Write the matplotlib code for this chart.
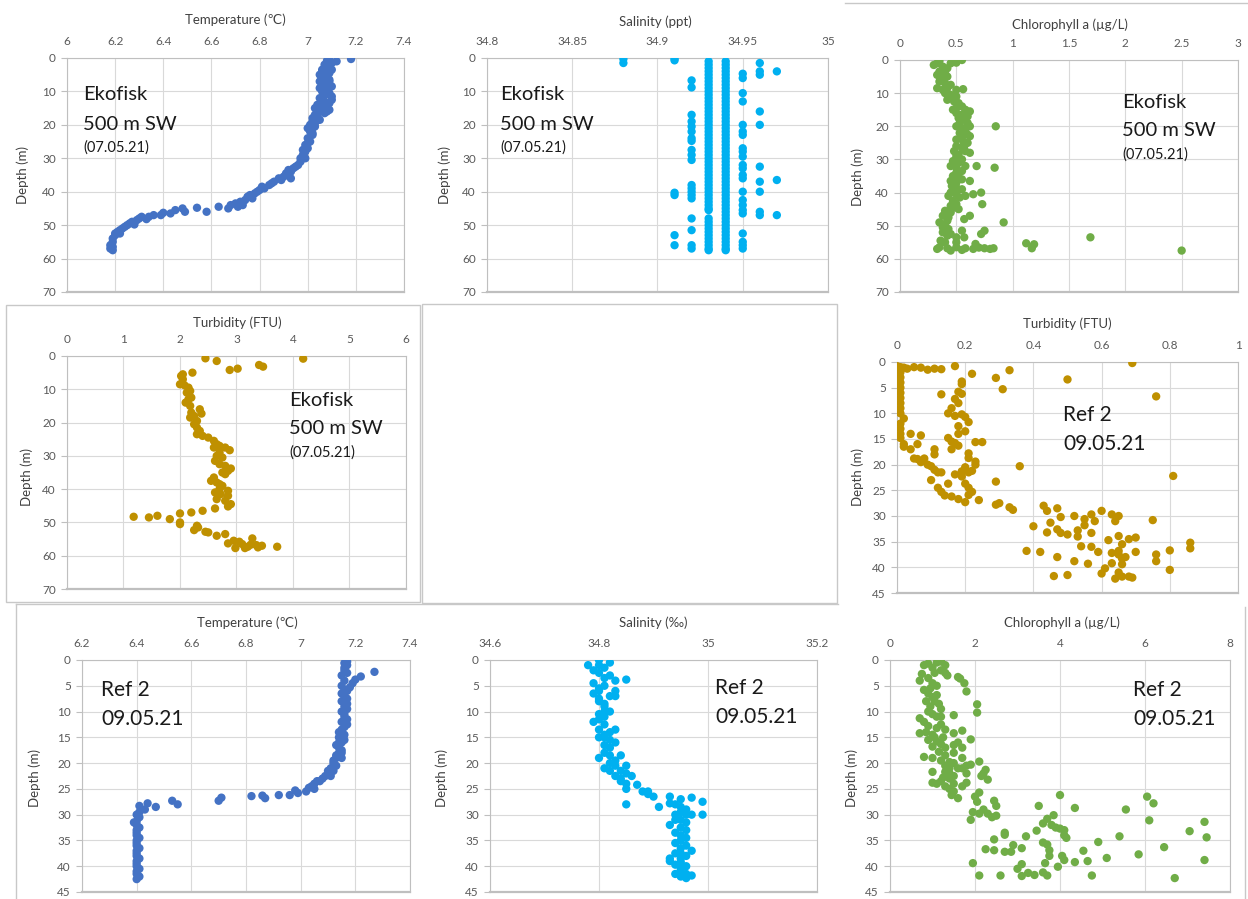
import matplotlib
matplotlib.use("Agg")
import matplotlib.pyplot as plt
from matplotlib.lines import Line2D
from matplotlib.patches import Rectangle

plt.rcParams['font.family'] = ['Lato', 'DejaVu Sans']

W, H = 1248, 899

# ---- data: (value, depth) pairs ----
eko_temp = [(7.18, 0.3), (7.09, 0.2), (7.08, 0.8), (7.12, 1), (7.10, 1.5), (7.09, 2.5), (7.07, 3),
            (7.06, 4), (7.09, 4.5), (7.05, 5), (7.08, 5.5), (7.06, 6), (7.09, 6.5), (7.05, 7),
            (7.08, 7.5), (7.06, 8), (7.10, 8.5), (7.05, 9), (7.08, 9.5), (7.06, 10), (7.09, 10.5),
            (7.07, 11), (7.10, 11.5), (7.05, 12), (7.10, 12.5), (7.07, 13), (7.04, 14), (7.08, 14.5),
            (7.03, 15), (7.06, 15.5), (7.09, 15.5), (7.05, 16), (7.07, 16.5), (7.03, 17), (7.02, 18),
            (7.05, 18.5), (7.02, 19), (7.01, 20), (7.03, 20.5), (7.02, 21), (7.01, 22), (7.02, 23),
            (7.00, 24), (7.01, 25), (6.99, 26), (7.00, 27), (6.99, 28), (6.98, 29), (6.99, 30),
            (6.97, 31), (6.96, 32), (6.94, 33), (6.92, 33.5), (6.93, 34), (6.92, 35), (6.93, 36),
            (6.90, 35.5), (6.88, 36), (6.86, 37), (6.85, 37.5), (6.84, 38), (6.82, 39), (6.80, 39.5),
            (6.79, 40), (6.78, 40.5), (6.76, 41), (6.77, 42), (6.74, 42.5), (6.72, 43), (6.70, 43.5),
            (6.71, 44.5), (6.68, 44), (6.67, 45), (6.63, 44.5), (6.58, 46), (6.54, 44.8), (6.48, 45),
            (6.49, 46), (6.45, 45.5), (6.43, 46.5), (6.40, 46.3), (6.39, 47), (6.36, 47), (6.34, 47.5),
            (6.31, 47.5), (6.30, 48), (6.29, 48.5), (6.27, 49), (6.26, 49.5), (6.25, 50), (6.24, 50.5),
            (6.23, 51), (6.22, 51.5), (6.21, 52), (6.20, 52.5), (6.20, 53), (6.19, 54), (6.19, 55),
            (6.18, 56), (6.18, 57), (6.19, 57.5),
            (7.07, 2), (7.06, 3.5), (7.10, 3.5), (7.07, 5), (7.09, 7), (7.06, 9.5), (7.09, 11),
            (7.06, 12.5), (7.09, 13.5), (7.05, 14.5), (7.08, 16), (7.04, 17.5), (7.03, 19.5),
            (7.00, 21), (7.02, 22.5), (7.00, 25.5), (6.98, 27.5), (6.97, 30), (6.95, 32.5), (6.91, 34.5),
            (6.89, 36.5), (6.81, 38.5), (6.75, 41.5), (6.73, 44), (6.33, 48.2), (6.28, 49.8),
            (6.22, 52.5), (6.19, 56.5)]

# Ekofisk salinity comes in discrete columns: depths per salinity value
sal_3488_depth = [0.3, 1.5]
sal_3491_depth = [0.2, 0.7, 40.3, 41, 53, 56]
sal_3492_depth = [6.7, 8.8, 17, 19, 20.5, 22, 24, 24.8, 27.5, 29, 30.5, 38, 39, 40, 41, 42, 48, 51.5, 56, 57]
sal_3493_depth = [1, 2, 3, 4, 5, 6, 7, 8, 9, 10, 11, 12, 13, 14, 15, 16, 17, 18, 19, 20, 21, 22, 23,
                  24, 25, 26, 27, 28, 29, 30, 31, 32, 33, 34, 35, 36, 37, 38, 39, 40, 41, 42, 43, 44,
                  45, 45.5, 48, 49, 50, 51, 52, 53, 54, 55, 56, 57, 57.5]
sal_3494_depth = [1, 2, 3, 4, 5, 6, 7, 8, 9, 10, 11, 12, 13, 14, 15, 16, 17, 18, 19, 20, 21, 22, 23,
                  24, 25, 26, 27, 28, 29, 30, 31, 32, 33, 34, 35, 36, 37, 38, 39, 40, 41, 42, 43, 44,
                  45, 46, 47, 48, 49, 50, 51, 52, 53, 54, 55, 56, 57, 57.5]
sal_3495_depth = [4.7, 6, 10.5, 13, 20, 22, 23, 27, 28, 29.5, 32, 33, 35, 36, 40, 42.5, 44, 45.5,
                  46.5, 52.5, 55, 56, 57]
sal_3496_depth = [1.5, 4, 5, 16, 20, 32.5, 37, 40, 46, 47]
sal_3497_depth = [4, 36.5, 47]

eko_chl = [(0.55, 0), (0.5, 0.8), (0.45, 1), (0.35, 0.3), (0.3, 1.5), (0.33, 1), (0.38, 2), (0.42, 2.5),
           (0.35, 3.5), (0.4, 4), (0.33, 4.5), (0.37, 5.5), (0.42, 5), (0.35, 6.5), (0.4, 7), (0.45, 7.5),
           (0.33, 8.5), (0.38, 9), (0.42, 8.5), (0.5, 9), (0.56, 8.8), (0.4, 10), (0.45, 10.5), (0.5, 11),
           (0.42, 12), (0.48, 12.5), (0.52, 13), (0.55, 14), (0.5, 14.5), (0.58, 15), (0.62, 15.5),
           (0.5, 16), (0.55, 16.5), (0.6, 17), (0.52, 17.5), (0.57, 18), (0.6, 19), (0.5, 20), (0.55, 20.5),
           (0.62, 20), (0.85, 20), (0.58, 21), (0.53, 22), (0.6, 22.5), (0.62, 23), (0.5, 24), (0.56, 24.5),
           (0.6, 25), (0.5, 26), (0.55, 26.5), (0.48, 27.5), (0.58, 27.5), (0.62, 28), (0.5, 29), (0.55, 30),
           (0.52, 31), (0.45, 32), (0.5, 32.5), (0.58, 32), (0.68, 32), (0.84, 32.5), (0.55, 33.5), (0.5, 34),
           (0.47, 35), (0.52, 35.5), (0.45, 36.5), (0.5, 37), (0.62, 36.5), (0.46, 38), (0.5, 38.5),
           (0.55, 39), (0.45, 40), (0.5, 40.5), (0.58, 41), (0.65, 40.5), (0.72, 40), (0.53, 41.5),
           (0.47, 42.5), (0.5, 43.5), (0.73, 43.5), (0.45, 44), (0.52, 45), (0.4, 45.5), (0.45, 46),
           (0.38, 47), (0.43, 47.5), (0.62, 47), (0.57, 48), (0.35, 49), (0.4, 49.5), (0.92, 49),
           (0.38, 50.5), (0.43, 51), (0.55, 51.5), (0.75, 51.5), (0.38, 52), (0.72, 52.5), (0.42, 53),
           (0.5, 53.5), (0.57, 53.5), (1.69, 53.5), (0.36, 54.5), (0.4, 55), (0.5, 55), (1.12, 55.3),
           (1.19, 55.6), (0.67, 55.5), (0.35, 56.5), (0.42, 56.8), (0.5, 56.5), (0.58, 56.8), (0.65, 57),
           (0.7, 56.6), (0.75, 56.8), (0.8, 57), (0.83, 56.8), (1.17, 56.8), (0.45, 57.5), (0.55, 57.3),
           (2.5, 57.5), (0.33, 57),
           (0.38, 3), (0.36, 6), (0.44, 11), (0.47, 15), (0.53, 19), (0.55, 23), (0.57, 26), (0.52, 28.5),
           (0.47, 30.5), (0.55, 36), (0.5, 39.5), (0.43, 41), (0.48, 44.5), (0.42, 48.5), (0.45, 52.5)]

eko_turb = [(2.45, 0.7), (2.65, 1.5), (4.18, 0.8), (3.4, 2.7), (3.47, 3.2), (3.02, 3.8), (2.88, 4.2),
            (2.05, 5.5), (2.22, 5), (2.02, 6), (2.05, 7), (2.0, 8.5), (2.08, 8.8), (2.15, 9.5), (2.18, 10.5),
            (2.12, 11), (2.2, 12.5), (2.15, 13), (2.1, 14), (2.18, 15), (2.35, 16), (2.38, 17.3), (2.2, 17),
            (2.25, 18), (2.18, 18.5), (2.3, 19.5), (2.25, 20.5), (2.3, 21.5), (2.35, 22.5), (2.3, 23.5),
            (2.4, 24), (2.5, 24.5), (2.6, 25.5), (2.65, 26.5), (2.7, 27), (2.8, 27.5), (2.88, 28.3),
            (2.6, 27.5), (2.7, 29), (2.65, 30), (2.75, 30.5), (2.62, 31.5), (2.7, 32.5), (2.8, 33),
            (2.9, 33.8), (2.85, 34.5), (2.75, 35), (2.8, 35.5), (2.6, 36.5), (2.55, 37.5), (2.65, 38),
            (2.7, 38.5), (2.75, 39), (2.7, 40), (2.85, 40.5), (2.62, 41), (2.72, 41.5), (2.85, 42),
            (2.65, 43), (2.8, 43.5), (2.9, 44.5), (2.85, 45.2), (2.62, 45.8), (2.4, 46.5), (2.2, 47),
            (2.0, 47.3), (1.6, 48), (1.45, 48.5), (1.18, 48.3), (1.82, 49), (2.0, 50), (2.0, 50.5),
            (2.3, 51), (2.32, 51.5), (2.25, 52.3), (2.45, 52.8), (2.5, 53), (2.8, 53.5), (2.65, 54),
            (3.28, 54.8), (2.95, 55.5), (3.05, 55.8), (2.85, 56.3), (3.1, 56.5), (3.25, 56.7),
            (3.35, 56.8), (3.45, 57), (3.2, 57.3), (3.15, 57.7), (2.98, 57.7), (3.38, 57.5), (3.72, 57.3)]

ref_turb = [(0.0, 0.8), (0.01, 1), (0.02, 1.1), (0.03, 1.3), (0.05, 1), (0.07, 1.1), (0.09, 1.5),
            (0.11, 1.3), (0.13, 1.4), (0.17, 0.8), (0.69, 0.2), (0.22, 2.3), (0.33, 1.6), (0.29, 3.1),
            (0.5, 3.4), (0.31, 5.3), (0.19, 3.8), (0.19, 4.3), (0.76, 6.7), (0.13, 6.3), (0.18, 5.8),
            (0.19, 6.2), (0.17, 7.2), (0.18, 8.0), (0.01, 2), (0.01, 3), (0.01, 4), (0.01, 5), (0.01, 6),
            (0.01, 7), (0.01, 8), (0.01, 9), (0.01, 10), (0.02, 11), (0.01, 12), (0.01, 13), (0.01, 14),
            (0.01, 14.8), (0.02, 16), (0.16, 9), (0.15, 10), (0.17, 10.5), (0.19, 10.2), (0.2, 10.7),
            (0.21, 11.7), (0.18, 12.5), (0.2, 13.5), (0.18, 14), (0.15, 14.8), (0.16, 15.5), (0.17, 15.8),
            (0.18, 16.3), (0.23, 15.6), (0.25, 15.6), (0.16, 17), (0.21, 17.8), (0.21, 18.7), (0.23, 19.4),
            (0.23, 20), (0.36, 20.3), (0.81, 22.2), (0.2, 20.5), (0.19, 21.3), (0.21, 21.5), (0.17, 21.9),
            (0.19, 22.3), (0.22, 21.2), (0.2, 23.7), (0.21, 24.5), (0.22, 25.3), (0.21, 25.9), (0.24, 26.9),
            (0.2, 27.3), (0.18, 26.7), (0.16, 26.2), (0.14, 26), (0.13, 25.3), (0.12, 24.5), (0.1, 23),
            (0.11, 21), (0.12, 21.5), (0.13, 21.5), (0.09, 20), (0.1, 20.3), (0.07, 19.5), (0.06, 18.9),
            (0.05, 18.8), (0.04, 17), (0.06, 16), (0.04, 14), (0.07, 14.3), (0.02, 16.5), (0.08, 18.8),
            (0.11, 17), (0.11, 18), (0.15, 23.7), (0.29, 23.3), (0.29, 27.8), (0.3, 27.5), (0.33, 28.3),
            (0.34, 28.8), (0.43, 28), (0.44, 29), (0.47, 28.5), (0.48, 30.2), (0.4, 32), (0.45, 31.3),
            (0.44, 33.2), (0.47, 32.6), (0.48, 33.3), (0.5, 33.6), (0.52, 30), (0.55, 30.6), (0.55, 31.8),
            (0.53, 32.8), (0.53, 34), (0.57, 33.3), (0.58, 31), (0.57, 29.7), (0.6, 29), (0.63, 29.7),
            (0.65, 30), (0.64, 31), (0.75, 30.8), (0.62, 34.7), (0.65, 33.9), (0.68, 34.5), (0.7, 34.2),
            (0.54, 35.9), (0.57, 36), (0.59, 37), (0.63, 37.2), (0.65, 36.8), (0.66, 35.5), (0.65, 37.5),
            (0.66, 38.3), (0.67, 38), (0.66, 39.4), (0.7, 37), (0.38, 36.8), (0.42, 37), (0.47, 38),
            (0.52, 38.8), (0.56, 39.3), (0.63, 39.2), (0.61, 40.2), (0.6, 41.2), (0.65, 41), (0.66, 41.8),
            (0.64, 42.2), (0.68, 41.8), (0.69, 42), (0.46, 41.7), (0.5, 41.5), (0.76, 37.5), (0.76, 38.8),
            (0.8, 36.7), (0.8, 40.5), (0.86, 35.2), (0.86, 36.3)]

ref_temp = [(7.17, 0.3), (7.17, 1), (7.16, 1.5), (7.16, 2), (7.27, 2.3), (7.15, 3), (7.22, 3.2),
            (7.2, 3.8), (7.16, 4), (7.19, 4.5), (7.15, 5), (7.18, 5.3), (7.17, 6), (7.15, 6.5),
            (7.16, 7), (7.17, 7.5), (7.15, 8), (7.16, 9), (7.17, 9.5), (7.15, 10), (7.16, 11),
            (7.17, 11.5), (7.15, 12), (7.16, 13), (7.15, 13.5), (7.14, 14), (7.16, 14.5), (7.14, 15),
            (7.15, 16), (7.13, 16.5), (7.14, 17), (7.15, 17.5), (7.14, 18), (7.13, 18.5), (7.15, 19),
            (7.12, 19.5), (7.12, 20), (7.11, 21), (7.12, 21.5), (7.10, 22), (7.11, 22.5), (7.08, 23),
            (7.07, 23.5), (7.05, 24), (7.04, 24.5), (7.05, 25), (7.02, 25.5), (6.98, 25.3), (6.99, 25.8),
            (6.96, 26.2), (6.92, 26.2), (6.86, 26.3), (6.82, 26.4), (6.87, 26.8), (6.71, 26.7),
            (6.70, 27.3), (6.53, 27.3), (6.55, 28), (6.47, 28.5), (6.44, 27.8), (6.43, 29), (6.41, 28.3),
            (6.41, 29.5), (6.40, 30), (6.41, 30.5), (6.40, 31.3), (6.39, 31.5), (6.40, 32), (6.41, 32.5),
            (6.40, 33), (6.40, 34), (6.41, 34.5), (6.40, 35), (6.40, 36), (6.41, 36.5), (6.40, 37),
            (6.40, 38), (6.41, 38.5), (6.40, 39), (6.40, 40), (6.41, 40.5), (6.40, 41), (6.40, 41.5),
            (6.41, 42), (6.40, 42.5),
            (7.16, 0.6), (7.17, 2.5), (7.16, 5.8), (7.17, 8.5), (7.16, 10.5), (7.17, 12.5), (7.16, 15.5),
            (7.14, 16), (7.15, 18), (7.13, 19), (7.13, 20.5), (7.10, 21.5), (7.09, 22.5), (7.06, 23.5),
            (7.03, 24.8), (6.40, 33.5), (6.40, 35.5), (6.40, 37.5), (6.40, 39.5)]

ref_sal = [(34.80, 0), (34.82, 0.5), (34.78, 1), (34.79, 2), (34.81, 1.5), (34.8, 2.5), (34.82, 3),
           (34.83, 4), (34.85, 3.8), (34.79, 4.5), (34.8, 5.5), (34.81, 5), (34.79, 6.5), (34.8, 6),
           (34.82, 7), (34.83, 6), (34.83, 7), (34.8, 8), (34.81, 9), (34.82, 10), (34.8, 10.5),
           (34.79, 12), (34.8, 11.5), (34.81, 10), (34.8, 13.5), (34.82, 14), (34.83, 13.5), (34.81, 15),
           (34.8, 15), (34.83, 16), (34.82, 17), (34.81, 18), (34.8, 19), (34.84, 18.5), (34.83, 19.5),
           (34.82, 20), (34.81, 21), (34.83, 20.5), (34.85, 20.5), (34.84, 21.5), (34.85, 22),
           (34.86, 22.5), (34.83, 22.5), (34.84, 23.5), (34.85, 24), (34.87, 24.2), (34.85, 25),
           (34.88, 25.5), (34.89, 25.5), (34.89, 26), (34.9, 26.5), (34.85, 28), (34.91, 28.5),
           (34.93, 26.5), (34.95, 27), (34.97, 26.7), (34.99, 27.5), (34.93, 27.8), (34.94, 28),
           (34.95, 28.5), (34.96, 29), (34.95, 29.5), (34.94, 30), (34.96, 30), (34.97, 30), (34.99, 30),
           (34.95, 31), (34.96, 31.5), (34.93, 32), (34.95, 32.5), (34.96, 33), (34.95, 34), (34.96, 34.5),
           (34.95, 35), (34.94, 35.5), (34.96, 36), (34.95, 36.5), (34.97, 37), (34.94, 37.5), (34.96, 38),
           (34.93, 38.5), (34.93, 39), (34.95, 39.2), (34.94, 39.7), (34.96, 40), (34.95, 40.5),
           (34.95, 41), (34.96, 41.5), (34.97, 41.8), (34.96, 42.3), (34.95, 42),
           (34.80, 1), (34.81, 3.5), (34.80, 7.5), (34.81, 8.5), (34.81, 11), (34.81, 12.5),
           (34.81, 14.5), (34.82, 15.5), (34.81, 16.5), (34.82, 18.5), (34.82, 21.5), (34.84, 23),
           (34.94, 31), (34.94, 33.5), (34.95, 37.5), (34.95, 38.5), (34.94, 41.5)]

ref_chl = [(0.8, 1), (0.9, 0.7), (1.0, 1.5), (1.1, 0.5), (1.2, 0.3), (1.3, 1), (1.2, 2), (1.3, 2.5),
           (1.35, 3), (0.75, 2.7), (0.7, 4), (0.9, 3.5), (1.0, 4.5), (1.1, 5), (1.6, 3.3), (1.65, 3.6),
           (1.75, 4.5), (1.8, 6.1), (0.8, 5.8), (0.9, 6.5), (1.0, 7.2), (0.85, 8), (1.05, 8), (0.95, 9),
           (1.2, 9.5), (2.05, 8.6), (2.05, 10.2), (0.9, 10), (1.0, 10.5), (1.1, 11), (0.7, 11.3), (0.8, 12),
           (1.2, 11), (1.5, 10.7), (1.2, 12.5), (1.3, 13.5), (0.7, 14.2), (0.85, 14), (1.0, 14.5),
           (1.05, 15), (0.9, 15.5), (1.1, 15.8), (1.2, 16.3), (1.3, 17), (1.5, 16.5), (1.6, 16),
           (1.7, 13.7), (1.5, 14.2), (1.9, 15.4), (1.7, 17), (1.5, 18), (1.3, 18.5), (0.8, 18.8),
           (1.0, 19), (1.2, 19.5), (1.3, 20.5), (1.4, 21), (1.3, 21.7), (1.4, 22), (1.5, 22.5), (1.5, 20),
           (1.6, 21), (1.7, 19), (1.8, 20.5), (1.7, 21), (1.8, 22), (1.9, 20.3), (2.1, 19.7), (2.25, 21.3),
           (2.2, 22), (2.15, 22.5), (2.3, 23.2), (1.0, 21.7), (1.0, 23.8), (1.1, 24), (1.2, 23.5),
           (1.4, 23), (1.5, 24), (1.7, 24.5), (1.8, 23.8), (1.4, 25), (1.5, 25.5), (1.45, 26.2),
           (1.6, 26.8), (2.0, 26.5), (2.05, 27.5), (2.1, 25.7), (1.95, 29.5), (1.9, 31), (2.1, 29.8),
           (2.2, 29), (2.3, 29.8), (2.4, 30.5), (2.45, 27.3), (2.5, 28.3), (2.5, 30.2), (3.5, 28.3),
           (4.0, 26.2), (4.35, 28.7), (3.85, 30.1), (3.7, 30.8), (3.6, 31.7), (3.8, 32), (3.9, 32.5),
           (4.0, 32.7), (4.1, 33), (4.1, 34), (4.15, 34.5), (3.45, 33.1), (3.2, 34.2), (2.7, 33.5),
           (2.7, 33.9), (2.45, 34.8), (2.45, 36.9), (2.25, 36.7), (2.7, 37.2), (2.85, 37.2), (2.9, 35.9),
           (3.1, 36.5), (3.6, 35.4), (3.7, 35.8), (3.75, 36.9), (3.75, 38), (4.05, 38), (4.1, 38.8),
           (3.95, 40.1), (4.35, 39.2), (4.55, 37), (4.65, 39), (4.9, 35.3), (5.1, 38.4), (5.4, 34.2),
           (5.55, 29), (6.05, 26.5), (6.2, 27.8), (6.1, 31.1), (5.85, 37.7), (6.45, 36.3), (7.05, 33.2),
           (7.4, 31.4), (7.45, 34.4), (7.4, 38.8), (6.7, 42.3), (4.75, 41.8), (3.65, 39.4), (3.6, 41.2),
           (3.7, 41.8), (3.4, 41.7), (3.25, 41.3), (3.1, 39.6), (3.1, 41.9), (3.0, 40.5), (2.6, 41.8),
           (2.1, 41.8), (1.95, 39.4),
           (1.05, 2.5), (0.95, 5.5), (1.1, 6.8), (1.15, 8.5), (0.9, 12.8), (1.1, 13.2), (1.25, 15),
           (1.0, 16.8), (1.15, 17.8), (1.4, 19.8), (1.25, 22.8), (1.3, 24.5)]

BLUE, CYAN, GREEN, GOLD = '#4472C4', '#00B0F0', '#70AD47', '#BF9000'
GRID, AXIS, TICK = '#d9d9d9', '#bfbfbf', '#595959'


def fx(x):
    return x / W


def fy(y):
    return 1 - y / H


def panel(box, xticks, ymax, ystep, title, title_xy, ylab_xy):
    l, t, r, b = box
    ax = fig.add_axes([fx(l), fy(b), fx(r - l), (b - t) / H])
    ax.set_xlim(xticks[0], xticks[-1])
    ax.set_ylim(ymax, 0)
    ax.set_xticks(xticks)
    ax.set_xticklabels(['%g' % v for v in xticks])
    yt = list(range(0, ymax + 1, ystep))
    ax.set_yticks(yt)
    ax.xaxis.tick_top()
    ax.tick_params(axis='x', length=0, pad=8, labelsize=8.5, labelcolor=TICK)
    ax.tick_params(axis='y', length=4, width=0.8, color=AXIS, pad=4, labelsize=8.5, labelcolor=TICK)
    ax.grid(True, color=GRID, lw=0.8)
    ax.set_axisbelow(True)
    for s in ax.spines.values():
        s.set_color(AXIS)
        s.set_linewidth(0.8)
    ax.spines['bottom'].set_linewidth(1.6)
    fig.text(fx(title_xy[0]), fy(title_xy[1]), title, ha='center', va='center',
             fontsize=9.5, color='#404040')
    fig.text(fx(ylab_xy[0]), fy(ylab_xy[1]), 'Depth (m)', ha='center', va='center',
             rotation=90, fontsize=9.5, color='#404040')
    return ax


def dots(ax, pts, color):
    xs = [p[0] for p in pts]
    ds = [p[1] for p in pts]
    ax.scatter(xs, ds, s=36, color=color, edgecolors='none', zorder=3)


def label(x, y, lines):
    for text, dy, size in lines:
        fig.text(fx(x), fy(y + dy), text, ha='left', va='center', fontsize=size, color='#1a1a1a')


eko_label = [('Ekofisk', 0, 14.5), ('500 m SW', 29, 14.5), ('(07.05.21)', 53, 10.5)]
ref_label = [('Ref 2', 0, 15), ('09.05.21', 29, 15)]

fig = plt.figure(figsize=(W / 100, H / 100), dpi=100)

# frames around some chart boxes
fig.add_artist(Rectangle((fx(422), fy(603)), fx(837 - 422), (603 - 304) / H,
                         transform=fig.transFigure, fill=False, ec='#c8c8c8', lw=1))
fig.add_artist(Rectangle((fx(6), fy(602)), fx(420 - 6), (602 - 305) / H,
                         transform=fig.transFigure, fill=False, ec='#c8c8c8', lw=1))
for xs, ys in [([845, 1248], [3, 3]), ([16, 838], [604, 604]), ([16, 16], [604, 899]),
               ([1245, 1245], [607, 899])]:
    fig.add_artist(Line2D([fx(v) for v in xs], [fy(v) for v in ys],
                          transform=fig.transFigure, color='#c8c8c8', lw=1))

# row 1
ax1 = panel((67, 58, 404, 292), [6, 6.2, 6.4, 6.6, 6.8, 7, 7.2, 7.4], 70, 10,
            'Temperature (\u2103)', (235, 20), (23, 175))
dots(ax1, eko_temp, BLUE)
label(83, 95, eko_label)

ax2 = panel((487, 58, 828, 292), [34.8, 34.85, 34.9, 34.95, 35], 70, 10,
            'Salinity (ppt)', (655, 22), (445, 175))
for sal, depths in [(34.88, sal_3488_depth), (34.91, sal_3491_depth), (34.92, sal_3492_depth),
                    (34.93, sal_3493_depth), (34.94, sal_3494_depth), (34.95, sal_3495_depth),
                    (34.96, sal_3496_depth), (34.97, sal_3497_depth)]:
    dots(ax2, [(sal, d) for d in depths], CYAN)
label(500, 95, eko_label)

ax3 = panel((900, 60, 1238, 292), [0, 0.5, 1, 1.5, 2, 2.5, 3], 70, 10,
            'Chlorophyll a (\u00b5g/L)', (1070, 25), (858, 177))
dots(ax3, eko_chl, GREEN)
label(1122, 102, eko_label)

# row 2
ax4 = panel((67, 356, 406, 589), [0, 1, 2, 3, 4, 5, 6], 70, 10,
            'Turbidity (FTU)', (237, 323), (27, 477))
dots(ax4, eko_turb, GOLD)
label(289, 400, eko_label)

ax5 = panel((897, 362, 1238, 593), [0, 0.2, 0.4, 0.6, 0.8, 1], 45, 5,
            'Turbidity (FTU)', (1067, 324), (858, 477))
dots(ax5, ref_turb, GOLD)
label(1063, 415, ref_label)

# row 3
ax6 = panel((82, 660, 410, 892), [6.2, 6.4, 6.6, 6.8, 7, 7.2, 7.4], 45, 5,
            'Temperature (\u2103)', (247, 623), (35, 778))
dots(ax6, ref_temp, BLUE)
label(101, 690, ref_label)

ax7 = panel((490, 660, 817, 892), [34.6, 34.8, 35, 35.2], 45, 5,
            'Salinity (\u2030)', (653, 623), (442, 778))
dots(ax7, ref_sal, CYAN)
label(715, 688, ref_label)

ax8 = panel((890, 660, 1230, 892), [0, 2, 4, 6, 8], 45, 5,
            'Chlorophyll a (\u00b5g/L)', (1062, 623), (852, 778))
dots(ax8, ref_chl, GREEN)
label(1133, 690, ref_label)

fig.savefig('out.png', dpi=100)
